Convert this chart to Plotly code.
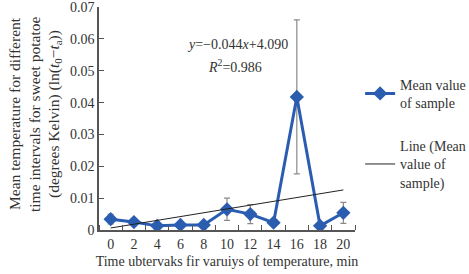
import numpy as np
import plotly.graph_objects as go

times = [0, 2, 4, 6, 8, 10, 12, 14, 16, 18, 20]
mean_values = [0.0034, 0.0025, 0.0013, 0.0016, 0.0016, 0.0065, 0.0050, 0.0023, 0.0418, 0.0013, 0.0054]
errors = [0.0015, 0.0008, 0.0004, 0.0004, 0.0004, 0.0035, 0.0030, 0.0005, 0.0242, 0.0004, 0.0033]
y_ticks = [0, 0.01, 0.02, 0.03, 0.04, 0.05, 0.06, 0.07]
y_tick_labels = ["0", "0.01", "0.02", "0.03", "0.04", "0.05", "0.06", "0.07"]
y_title_lines = [
    "Mean temperature for different",
    "time intervals for sweet potatoe",
    "(degrees Kelvin) (ln(<i>t</i><sub>0</sub>−<i>t</i><sub>a</sub>))",
]

slope, intercept = np.polyfit(np.array(times, dtype=float), np.array(mean_values), 1)
trend_x = [times[0], times[-1]]
trend_y = [intercept + slope * t for t in trend_x]

FONT = "Liberation Serif"
BLUE = "#2a5db0"
TXT = "#333333"

fig = go.Figure()
fig.add_trace(go.Scatter(
    x=times, y=mean_values, mode="lines+markers",
    name="Mean value<br>of sample", legendgroup="mean",
    line=dict(color=BLUE, width=3),
    marker=dict(symbol="diamond", size=11, color=BLUE),
    error_y=dict(type="data", array=errors, visible=True, color="#8a8a8a", thickness=1.2, width=3),
))
fig.add_trace(go.Scatter(
    x=trend_x, y=trend_y, mode="lines",
    name="Line (Mean<br>value of<br>sample)", legendgroup="trend",
    line=dict(color="#222222", width=1),
))

fig.add_annotation(
    xref="x", yref="y", x=10.86, y=0.0584,
    text="<i>y</i>=−0.044<i>x</i>+4.090",
    showarrow=False, font=dict(family=FONT, size=14, color=TXT),
)
fig.add_annotation(
    xref="x", yref="y", x=10.7, y=0.0515,
    text="<i>R</i><sup>2</sup>=0.986",
    showarrow=False, font=dict(family=FONT, size=14, color=TXT),
)

# y-axis title lines
for line, px in zip(y_title_lines, [14, 34, 54]):
    fig.add_annotation(
        xref="paper", yref="paper", x=(px - 99) / 256, y=(230 - 114) / 223,
        text=line, textangle=-90, showarrow=False,
        xanchor="center", yanchor="middle",
        font=dict(family=FONT, size=15.5, color=TXT),
    )

fig.update_layout(
    width=469, height=274,
    margin=dict(l=99, r=114, t=7, b=44, autoexpand=False),
    paper_bgcolor="white", plot_bgcolor="white",
    font=dict(family=FONT, size=14, color=TXT),
    showlegend=True,
    legend=dict(x=1.02, y=0.723, xanchor="left", yanchor="top",
                font=dict(family=FONT, size=14, color=TXT),
                tracegroupgap=22, bgcolor="rgba(0,0,0,0)"),
    xaxis=dict(
        range=[-1, 21], tickvals=times, ticktext=[str(t) for t in times],
        ticks="", showgrid=False, zeroline=False,
        showline=True, linecolor="#555555", linewidth=1.5,
        tickfont=dict(family=FONT, size=14, color=TXT),
        minor=dict(tickvals=list(range(-1, 22, 2)), ticks="inside", ticklen=5,
                   tickcolor="#555555", showgrid=False),
        title=dict(text="Time ubtervaks fir varuiys of temperature, min",
                   font=dict(family=FONT, size=14, color=TXT), standoff=6),
    ),
    yaxis=dict(
        range=[0, 0.07005], tickvals=y_ticks, ticktext=y_tick_labels,
        ticks="inside", ticklen=5, tickcolor="#555555",
        showgrid=False, zeroline=False,
        showline=True, linecolor="#555555", linewidth=1.5,
        tickfont=dict(family=FONT, size=14, color=TXT),
    ),
)

fig.write_html("out.html")
